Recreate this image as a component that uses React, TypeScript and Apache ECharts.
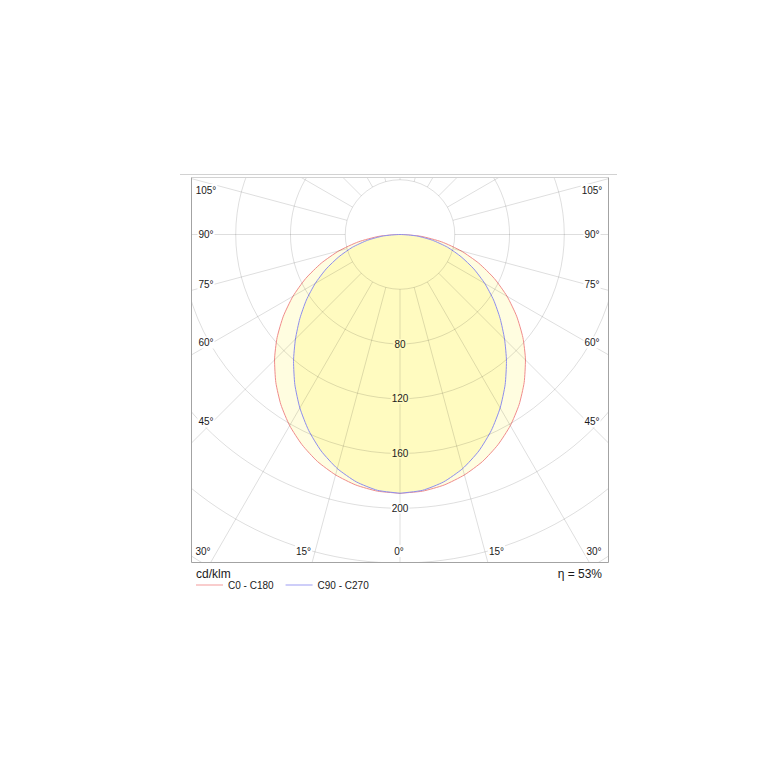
import React, { useEffect, useRef } from "react";
import * as echarts from "echarts";

// ---- data (cd/klm) ----
const gammaAngles = [0, 5, 10, 15, 20, 25, 30, 35, 40, 45, 50, 55, 60, 65, 70, 75, 80, 85, 90];
const c0c180Values = [189.0, 188.2, 185.8, 181.8, 176.4, 169.4, 161.2, 151.7, 141.1, 129.6, 117.2, 104.0, 90.3, 76.0, 61.2, 46.2, 30.9, 15.5, 0];
const c90c270Values = [189.0, 187.6, 183.5, 177.0, 168.3, 157.9, 146.3, 133.9, 121.0, 108.0, 95.5, 83.5, 71.5, 59.5, 47.5, 36.0, 24.0, 12.2, 0];
const seriesNames = ["C0 - C180", "C90 - C270"];
const radiusLabelTicks = [80, 120, 160, 200];
const sideAngleTicks = [105, 90, 75, 60, 45];
const bottomAngleTicks = [30, 15, 0];
const unitText = "cd/klm";
const efficiencyText = "η = 53%";

// ---- layout ----
const W = 767;
const H = 767;
const CX = 400;
const CY = 234.5;
const PX = 1.369; // pixels per cd/klm
const R_MIN = 40;
const R_MAX = 320;
const R_STEP = 40;
const FR = { l: 191.5, t: 177.5, r: 608.5, b: 562.5 };
const FONT = 'Arial, "Liberation Sans", Helvetica, sans-serif';
const d2r = Math.PI / 180;

function toPolarData(values: number[]) {
  const right = gammaAngles.map((g, i) => [values[i], g]);
  const left: number[][] = [];
  for (let i = gammaAngles.length - 2; i >= 0; i--) left.push([values[i], 360 - gammaAngles[i]]);
  return [...right, ...left];
}

function angleText(text: string, x: number, y: number, align: string) {
  return {
    type: "text",
    x,
    y,
    z: 110,
    style: {
      text,
      fill: "#1a1a1a",
      fontSize: 10,
      fontFamily: FONT,
      align,
      verticalAlign: "middle",
      backgroundColor: "#fff",
      padding: [1, 1],
    },
  };
}

function buildGraphic() {
  const els: any[] = [];
  const mask = { fill: "#fff", stroke: null };
  els.push({ type: "rect", z: 100, shape: { x: 0, y: 0, width: W, height: FR.t }, style: mask });
  els.push({ type: "rect", z: 100, shape: { x: 0, y: FR.b, width: W, height: H - FR.b }, style: mask });
  els.push({ type: "rect", z: 100, shape: { x: 0, y: 0, width: FR.l, height: H }, style: mask });
  els.push({ type: "rect", z: 100, shape: { x: FR.r, y: 0, width: W - FR.r, height: H }, style: mask });
  els.push({
    type: "line", z: 105,
    shape: { x1: 180, y1: 174.5, x2: 617, y2: 174.5 },
    style: { stroke: "#D2D2D2", lineWidth: 1 },
  });
  els.push({
    type: "line", z: 105,
    shape: { x1: FR.l, y1: FR.t, x2: FR.r, y2: FR.t },
    style: { stroke: "#D2D2D2", lineWidth: 1 },
  });
  els.push({
    type: "polyline", z: 105,
    shape: { points: [[FR.l, FR.t], [FR.l, FR.b], [FR.r, FR.b], [FR.r, FR.t]] },
    style: { stroke: "#A3A3A3", lineWidth: 1, fill: null },
  });
  // side angle labels
  sideAngleTicks.forEach((g) => {
    let y = CY + (CX - 213) * Math.cos(g * d2r) / Math.sin(g * d2r);
    y = Math.max(FR.t + 12.5, Math.min(FR.b - 12, y));
    els.push(angleText(`${g}°`, FR.l + 14.5, y, "center"));
    els.push(angleText(`${g}°`, FR.r - 16.5, y, "center"));
  });
  // bottom angle labels
  const yb = 551;
  bottomAngleTicks.forEach((g) => {
    if (g === 0) {
      els.push(angleText(`${g}°`, CX - 1, yb, "center"));
      return;
    }
    const dx = (FR.b - CY) * Math.tan(g * d2r);
    els.push(angleText(`${g}°`, Math.max(CX - dx, FR.l + 20), yb, "right"));
    els.push(angleText(`${g}°`, Math.min(CX + dx, FR.r - 23), yb, "left"));
  });
  els.push({
    type: "text", x: 196, y: 573.5, z: 110,
    style: { text: unitText, fill: "#1a1a1a", fontSize: 12, fontFamily: FONT, align: "left", verticalAlign: "middle" },
  });
  els.push({
    type: "text", x: 602, y: 573.5, z: 110,
    style: { text: efficiencyText, fill: "#1a1a1a", fontSize: 12, fontFamily: FONT, align: "right", verticalAlign: "middle" },
  });
  return els;
}

export default function App() {
  const ref = useRef<HTMLDivElement>(null);
  useEffect(() => {
    if (!ref.current) return;
    const chart = echarts.init(ref.current, undefined, { renderer: "svg" });
    const gridLine = { color: "rgba(0,0,0,0.13)", width: 1 };
    const peak = c0c180Values[0];
    const option: any = {
      animation: false,
      backgroundColor: "#fff",
      textStyle: { fontFamily: FONT },
      polar: [
        { center: [CX, CY], radius: [R_MIN * PX, R_MAX * PX] },
        { center: [CX, CY], radius: [0, R_MAX * PX] },
      ],
      angleAxis: [
        {
          polarIndex: 0, type: "value", min: 0, max: 360, interval: 15,
          startAngle: 270, clockwise: false, z: 8,
          axisLine: { show: false }, axisTick: { show: false }, axisLabel: { show: false },
          splitLine: { show: true, lineStyle: gridLine },
        },
        {
          polarIndex: 1, type: "value", min: 0, max: 360, interval: 15,
          startAngle: 270, clockwise: false, show: false,
        },
      ],
      radiusAxis: [
        {
          polarIndex: 0, type: "value", min: R_MIN, max: R_MAX, interval: R_STEP, z: 9,
          axisLine: { show: false }, axisTick: { show: false },
          splitLine: { show: true, lineStyle: gridLine },
          axisLabel: {
            margin: 0,
            align: "center",
            verticalAlign: "middle",
            formatter: (v: number) =>
              radiusLabelTicks.includes(v) ? `{${v < peak ? "y" : "w"}|${v}}` : "",
            rich: {
              y: { backgroundColor: "#FFFBC2", padding: [0, 1], fontSize: 10, color: "#1a1a1a", fontFamily: FONT },
              w: { backgroundColor: "#FFFFFF", padding: [0, 1], fontSize: 10, color: "#1a1a1a", fontFamily: FONT },
            },
          },
        },
        { polarIndex: 1, type: "value", min: 0, max: R_MAX, interval: R_STEP, show: false },
      ],
      legend: {
        data: seriesNames,
        left: 196,
        top: 580,
        icon: "rect",
        itemWidth: 27,
        itemHeight: 1,
        itemGap: 12,
        padding: 0,
        selectedMode: false,
        z: 120,
        textStyle: { fontSize: 10, color: "#1a1a1a", fontFamily: FONT },
      },
      series: [
        {
          type: "line",
          name: seriesNames[0],
          coordinateSystem: "polar",
          polarIndex: 1,
          data: toPolarData(c0c180Values),
          symbol: "none",
          smooth: 0.2,
          color: "#F39A9A",
          itemStyle: { color: "#F39A9A" },
          lineStyle: { color: "#F08C8C", width: 1 },
          areaStyle: { color: "#FFFDE0", opacity: 1 },
          z: 2,
        },
        {
          type: "line",
          name: seriesNames[1],
          coordinateSystem: "polar",
          polarIndex: 1,
          data: toPolarData(c90c270Values),
          symbol: "none",
          smooth: 0.2,
          color: "#9C9CF2",
          itemStyle: { color: "#9C9CF2" },
          lineStyle: { color: "#8E8EEE", width: 1 },
          areaStyle: { color: "#FFFBC0", opacity: 1 },
          z: 3,
        },
      ],
      graphic: { elements: buildGraphic() },
    };
    chart.setOption(option);
    return () => chart.dispose();
  }, []);
  return (
    <div
      ref={ref}
      style={{ position: "fixed", left: 0, top: 0, width: W, height: H, background: "#fff" }}
    />
  );
}
